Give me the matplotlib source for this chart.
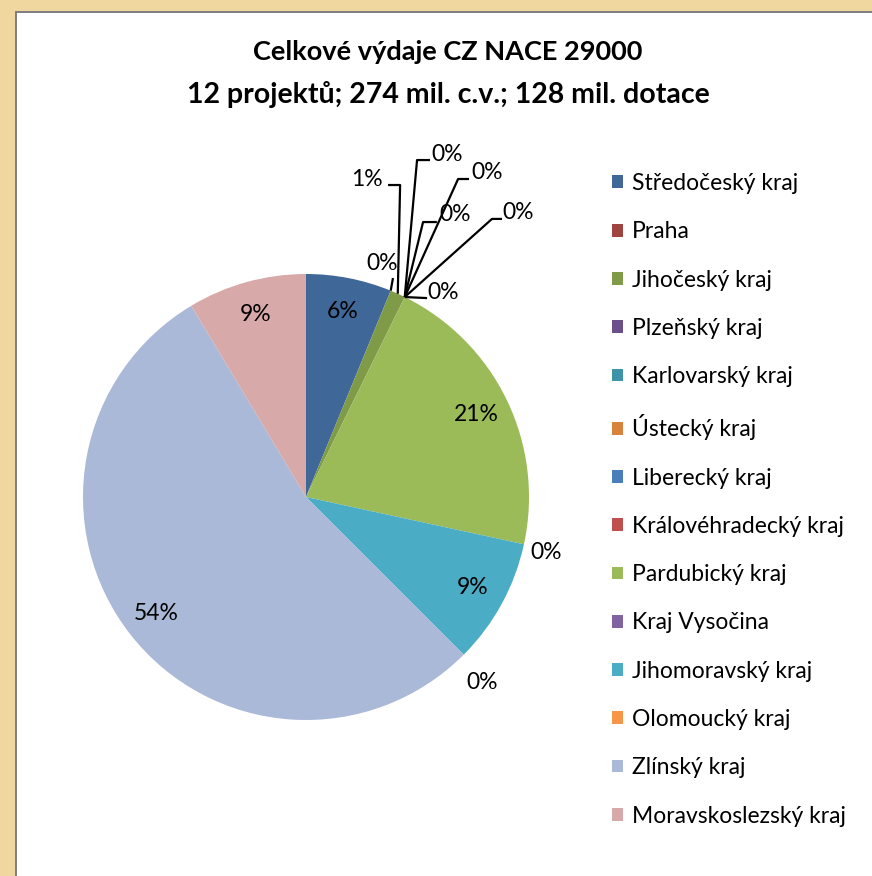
import matplotlib
matplotlib.use("Agg")
import matplotlib.pyplot as plt
import numpy as np
from matplotlib.patches import Rectangle

regions = ["Středočeský kraj", "Praha", "Jihočeský kraj", "Plzeňský kraj",
           "Karlovarský kraj", "Ústecký kraj", "Liberecký kraj",
           "Královéhradecký kraj", "Pardubický kraj", "Kraj Vysočina",
           "Jihomoravský kraj", "Olomoucký kraj", "Zlínský kraj",
           "Moravskoslezský kraj"]
shares = [6.2, 0.0, 1.1, 0.0, 0.0, 0.0, 0.0, 0.0, 21.1, 0.0, 9.1, 0.0, 53.9, 8.6]
colors = ["#3F6797", "#A04442", "#7F9B47", "#6A4F8A", "#3F93A8", "#D9823B",
          "#4A7EBB", "#C0504D", "#9BBB59", "#8064A2", "#4BACC6", "#F79646",
          "#AAB9D7", "#D8A9A9"]
title_lines = ["Celkové výdaje CZ NACE 29000",
               "12 projektů; 274 mil. c.v.; 128 mil. dotace"]

# label layout for small slices: text position, elbow, line end (radius units)
small_layout = {
    1: ((0.341, 1.049), (0.390, 0.982), None),
    2: ((0.274, 1.422), (0.422, 1.399), (0.368, 1.399)),
    3: ((0.632, 1.538), (0.498, 1.511), (0.556, 1.511)),
    4: ((0.812, 1.457), (0.682, 1.426), (0.731, 1.426)),
    5: ((0.668, 1.269), (0.525, 1.233), (0.587, 1.233)),
    6: ((0.951, 1.274), (0.834, 1.247), (0.879, 1.247)),
    7: ((0.614, 0.919), None, (0.543, 0.892)),
    9: ((1.076, -0.251), None, None),
    11: ((0.789, -0.834), None, None),
}

W, H = 872, 876
fig = plt.figure(figsize=(W / 100, H / 100), dpi=100)
fig.patch.set_facecolor("#EFD79F")
# white chart area with grey shadow edge
fig.add_artist(Rectangle((15 / W, -0.5), 2, 1.5 - 11 / H, transform=fig.transFigure,
                         facecolor="#808080", edgecolor="none", zorder=0))
fig.add_artist(Rectangle((17 / W, -0.5), 2, 1.5 - 13 / H, transform=fig.transFigure,
                         facecolor="white", edgecolor="none", zorder=0))

font = ["Lato", "DejaVu Sans"]
plt.rcParams["font.family"] = font

cx, cy, R = 306, 497, 223
half = 340
ax = fig.add_axes([(cx - half) / W, (H - cy - half) / H, 2 * half / W, 2 * half / H])

wedges, _ = ax.pie(shares, colors=colors, startangle=90, counterclock=False,
                   radius=1, wedgeprops=dict(linewidth=0))
ax.set_xlim(-half / R, half / R)
ax.set_ylim(-half / R, half / R)
ax.axis("off")

fs = 16.5
for i, (w, v) in enumerate(zip(wedges, shares)):
    ang = np.deg2rad((w.theta1 + w.theta2) / 2)
    txt = f"{round(v):.0f}%"
    ex, ey = np.cos(ang), np.sin(ang)
    if i in small_layout:
        tpos, elbow, lend = small_layout[i]
        pts = [(ex, ey)]
        if elbow is not None:
            pts.append(elbow)
        if lend is not None:
            pts.append(lend)
        if len(pts) > 1:
            xs, ys = zip(*pts)
            ax.plot(xs, ys, color="black", lw=1.6, solid_capstyle="butt", zorder=3)
        ax.text(tpos[0], tpos[1], txt, ha="center", va="center", fontsize=fs,
                color="black")
    else:
        ax.text(0.85 * ex, 0.85 * ey, txt, ha="center", va="center",
                fontsize=fs, color="black")

for k, (line, size) in enumerate(zip(title_lines, [19.5, 20.5])):
    fig.text(448 / W, 1 - (52 + 42 * k) / H, line, ha="center", va="center",
             fontsize=size, fontweight="bold", color="black")

leg = fig.legend(wedges, regions, loc="upper left",
                 bbox_to_anchor=(612 / W, 1 - 173 / H), frameon=False,
                 fontsize=fs, handlelength=0.48, handleheight=0.48,
                 handletextpad=0.4, labelspacing=1.19, borderpad=0,
                 borderaxespad=0)

fig.savefig("out.png", dpi=100, facecolor=fig.get_facecolor())
